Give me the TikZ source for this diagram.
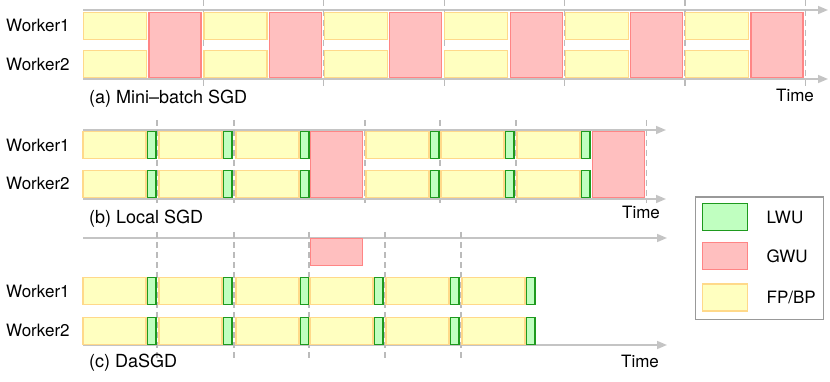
\documentclass[tikz,border=0pt]{standalone}
\usepackage{fontspec}
\setmainfont{TeX Gyre Heros}
\usetikzlibrary{arrows.meta,positioning}
\definecolor{fpfill}{HTML}{FFFFC0}
\definecolor{fpline}{HTML}{FFD98A}
\definecolor{gwfill}{HTML}{FFBFBF}
\definecolor{gwline}{HTML}{FF8585}
\definecolor{lwfill}{HTML}{C0FFC0}
\definecolor{lwline}{HTML}{1E9A1E}
\definecolor{axisgray}{HTML}{C4C4C4}
\definecolor{dashgray}{HTML}{BBBBBB}
\definecolor{keygray}{HTML}{999999}
\tikzset{>={Triangle[length=10pt,width=8pt]},
  blk/.style={draw,line width=1.2pt,anchor=north west,inner sep=0pt,outer sep=0pt},
  fpbox/.style={blk,draw=fpline,fill=fpfill,minimum width=63pt,minimum height=27pt},
  lwbox/.style={blk,draw=lwline,fill=lwfill,minimum width=8.5pt,minimum height=27pt},
  gwbox/.style={blk,draw=gwline,fill=gwfill,minimum width=52pt,minimum height=65.5pt},
  timeaxis/.style={->,line width=1.5pt,axisgray},
  tick/.style={dashgray,line width=1.2pt,dash pattern=on 6pt off 4pt},
  lbl/.style={font=\fontsize{17}{20}\selectfont,inner sep=0pt},
  caption/.style={lbl,anchor=west,font=\fontsize{18}{21}\selectfont}}

\begin{document}
\begin{tikzpicture}[x=1pt,y=-1pt]
\useasboundingbox (0,0) rectangle (830,382);
% (a) Mini-batch SGD
\coordinate (a-t0) at (83,10);  \coordinate (a-t1) at (828,10);
\coordinate (a-b0) at (83,79);  \coordinate (a-b1) at (828,79);
\draw[timeaxis] (a-t0) -- (a-t1);
\draw[timeaxis] (a-b0) -- (a-b1);
\foreach \k in {0,...,5}{
  \pgfmathsetmacro{\xs}{83+120.4*\k}
  \draw[tick] (\xs+120.4,0) -- (\xs+120.4,87);
  \node[fpbox] (a-f1-\k) at (\xs+0.5,12.2) {};
  \node[fpbox] (a-f2-\k) at (\xs+0.5,50.7) {};
  \node[gwbox] (a-g-\k) at (\xs+66,12.2) {};
}
\node[lbl,anchor=west] (a-w1) at (6,25.5) {Worker1};
\node[lbl,anchor=west] (a-w2) at (6,64.5) {Worker2};
\node[caption] (a-cap) at (89,99) {(a) Mini--batch SGD};
\node[lbl] (a-time) at (795,95) {Time};

% (b) Local SGD
\coordinate (b-t0) at (83,130);  \coordinate (b-t1) at (666,130);
\coordinate (b-b0) at (83,199);  \coordinate (b-b1) at (666,199);
\draw[timeaxis] (b-t0) -- (b-t1);
\draw[timeaxis] (b-b0) -- (b-b1);
\foreach \x in {157,234,365,440,516,646.5}
  \draw[tick] (\x,120) -- (\x,203);
\foreach \x [count=\i] in {83,159,236,366,441,517}{
  \node[fpbox] (b-f1-\i) at (\x,131.8) {};
  \node[fpbox] (b-f2-\i) at (\x,170.3) {};
  \node[lwbox] (b-l1-\i) at (\x+64.5,131.8) {};
  \node[lwbox] (b-l2-\i) at (\x+64.5,170.3) {};
}
\node[gwbox] (b-g-1) at (310.5,131.8) {};
\node[gwbox] (b-g-2) at (592.5,131.8) {};
\node[lbl,anchor=west] (b-w1) at (6,145.3) {Worker1};
\node[lbl,anchor=west] (b-w2) at (6,183.8) {Worker2};
\node[caption] (b-cap) at (89,219) {(b) Local SGD};
\node[lbl] (b-time) at (641,212) {Time};

% (c) DaSGD
\coordinate (c-t0) at (83,238);  \coordinate (c-t1) at (667,238);
\coordinate (c-b0) at (83,345);  \coordinate (c-b1) at (667,345);
\draw[timeaxis] (c-t0) -- (c-t1);
\draw[timeaxis] (c-b0) -- (c-b1);
\foreach \x in {157,234,309,385,461}
  \draw[tick] (\x,232) -- (\x,360);
\node[gwbox,minimum height=27pt] (c-g) at (310.5,238.5) {};
\foreach \x [count=\i] in {83,159,236,310,386,462}{
  \node[fpbox] (c-f1-\i) at (\x,277.8) {};
  \node[fpbox] (c-f2-\i) at (\x,317.3) {};
  \node[lwbox] (c-l1-\i) at (\x+64.5,277.8) {};
  \node[lwbox] (c-l2-\i) at (\x+64.5,317.3) {};
}
\node[lbl,anchor=west] (c-w1) at (6,291.3) {Worker1};
\node[lbl,anchor=west] (c-w2) at (6,330.8) {Worker2};
\node[caption] (c-cap) at (89,363) {(c) DaSGD};
\node[lbl] (c-time) at (640,361) {Time};

% legend
\node[draw=keygray,line width=1.2pt,anchor=north west,minimum width=128pt,minimum height=122pt,inner sep=0pt] (key) at (694.5,196.5) {};
\node[lwbox,minimum width=45pt] (key-lw) at (702.5,203.5) {};
\node[gwbox,minimum width=45pt,minimum height=27pt] (key-gw) at (702.5,242.5) {};
\node[fpbox,minimum width=45pt] (key-fp) at (702.5,284) {};
\node[lbl,right=19pt of key-lw] (key-lwt) {LWU};
\node[lbl,right=19pt of key-gw] (key-gwt) {GWU};
\node[lbl,right=19pt of key-fp] (key-fpt) {FP/BP};
\end{tikzpicture}
\end{document}
